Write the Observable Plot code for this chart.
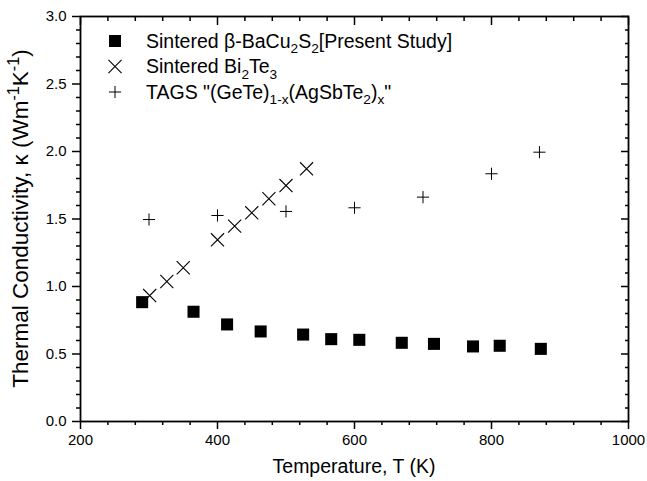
<!DOCTYPE html>
<html><head><meta charset="utf-8">
<script src="https://cdn.jsdelivr.net/npm/d3@7"></script>
<script src="https://cdn.jsdelivr.net/npm/@observablehq/plot@0.6"></script>
<style>body{margin:0;background:#fff} svg{display:block}</style>
</head><body><div id="chart"></div>
<script>
// Sintered beta-BaCu2S2 [Present Study]
const baT = [290, 365, 414, 463, 525, 566, 607, 669, 716, 773, 812, 872];
const baK = [0.884, 0.813, 0.719, 0.667, 0.644, 0.610, 0.605, 0.583, 0.575, 0.556, 0.561, 0.538];
// Sintered Bi2Te3
const biT = [301, 326, 350, 400, 425, 450, 475, 500, 530];
const biK = [0.933, 1.037, 1.139, 1.346, 1.447, 1.546, 1.650, 1.748, 1.872];
// TAGS
const tagsT = [300, 400, 500, 600, 700, 800, 870];
const tagsK = [1.496, 1.526, 1.556, 1.583, 1.662, 1.835, 1.995];

const xTicks = [200, 400, 600, 800, 1000];
const xMinor = [240, 280, 320, 360, 440, 480, 520, 560, 640, 680, 720, 760, 840, 880, 920, 960];
const yTicks = [0, 0.5, 1.0, 1.5, 2.0, 2.5, 3.0];
const yMinor = [0.1,0.2,0.3,0.4,0.6,0.7,0.8,0.9,1.1,1.2,1.3,1.4,1.6,1.7,1.8,1.9,2.1,2.2,2.3,2.4,2.6,2.7,2.8,2.9];

const xTitle = ["Temperature, T (K)"];
const yTitle = ["Thermal Conductivity, κ (Wm", ["-1","sup"], "K", ["-1","sup"], ")"];
const legendLabels = [
  ["Sintered β-BaCu", ["2","sub"], "S", ["2","sub"], "[Present Study]"],
  ["Sintered Bi", ["2","sub"], "Te", ["3","sub"]],
  ["TAGS \"(GeTe)", ["1-x","sub"], "(AgSbTe", ["2","sub"], ")", ["x","sub"], "\""]
];

const ba = baT.map((t, i) => ({T: t, k: baK[i]}));
const bi = biT.map((t, i) => ({T: t, k: biK[i]}));
const tags = tagsT.map((t, i) => ({T: t, k: tagsK[i]}));

const R_SQ = 6.8, R_X = 6.0, R_PLUS = 4.0;
const blank = () => "";

const chart = Plot.plot({
  width: 647, height: 481,
  marginLeft: 80, marginRight: 19, marginTop: 16, marginBottom: 60,
  x: {domain: [200, 1000]},
  y: {domain: [0, 3]},
  style: {fontFamily: "'Liberation Sans', Arial, sans-serif", fontSize: "15px", color: "black", background: "white"},
  marks: [
    Plot.axisX(xMinor, {anchor: "bottom", tickSize: 4, strokeWidth: 1.5, tickFormat: blank, label: null}),
    Plot.axisX(xTicks, {anchor: "bottom", tickSize: 8, strokeWidth: 1.5, tickPadding: 5, tickFormat: d => String(d), label: null}),
    Plot.axisX(xMinor, {anchor: "top", tickSize: -4, strokeWidth: 1.5, tickFormat: blank, label: null}),
    Plot.axisX(xTicks, {anchor: "top", tickSize: -8, strokeWidth: 1.5, tickFormat: blank, label: null}),
    Plot.axisY(yMinor, {anchor: "left", tickSize: 4, strokeWidth: 1.5, tickFormat: blank, label: null}),
    Plot.axisY(yTicks, {anchor: "left", tickSize: 8, strokeWidth: 1.5, tickPadding: 6, tickFormat: d => d.toFixed(1), label: null}),
    Plot.axisY(yMinor, {anchor: "right", tickSize: -4, strokeWidth: 1.5, tickFormat: blank, label: null}),
    Plot.axisY(yTicks, {anchor: "right", tickSize: -8, strokeWidth: 1.5, tickFormat: blank, label: null}),
    Plot.frame({stroke: "black", strokeWidth: 1.8}),
    Plot.dot(ba, {x: "T", y: "k", symbol: "square", r: R_SQ, fill: "black", stroke: "none"}),
    Plot.dot(bi, {x: "T", y: "k", symbol: "times", r: R_X, stroke: "black", strokeWidth: 1.1, fill: "none"}),
    Plot.dot(tags, {x: "T", y: "k", symbol: "plus", r: R_PLUS, stroke: "black", strokeWidth: 1.0, fill: "none"})
  ]
});
document.getElementById("chart").append(chart);

const svg = d3.select(chart);
function rich(sel, parts, fs, small) {
  let shift = 0;
  for (const p of parts) {
    const [s, kind] = typeof p === "string" ? [p, null] : p;
    const target = kind === "sub" ? fs * 0.3 : kind === "sup" ? -fs * 0.4 : 0;
    sel.append("tspan").attr("dy", target - shift).attr("font-size", kind ? fs * small : fs).text(s);
    shift = target;
  }
}
const FF = "'Liberation Sans', Arial, sans-serif";
// axis titles
const tx = svg.append("text").attr("x", (80 + 628) / 2).attr("y", 473).attr("text-anchor", "middle")
  .attr("font-family", FF).attr("font-size", 19.5).attr("fill", "black");
rich(tx, xTitle, 19.5, 0.7);
const ty = svg.append("text").attr("transform", `translate(28,${(16 + 421) / 2}) rotate(-90)`).attr("text-anchor", "middle")
  .attr("font-family", FF).attr("font-size", 22.5).attr("fill", "black");
rich(ty, yTitle, 22.5, 0.72);

// legend
const symbols = [
  {sym: d3.symbolSquare, r: R_SQ, fill: "black", stroke: "none", sw: 0},
  {sym: d3.symbolTimes, r: R_X, fill: "none", stroke: "black", sw: 1.1},
  {sym: d3.symbolPlus, r: R_PLUS, fill: "none", stroke: "black", sw: 1.0}
];
const rowsY = [41, 66.5, 92];
const lg = svg.append("g");
legendLabels.forEach((parts, i) => {
  const s = symbols[i];
  lg.append("path").attr("transform", `translate(115,${rowsY[i]})`)
    .attr("d", d3.symbol(s.sym, Math.PI * s.r * s.r)())
    .attr("fill", s.fill).attr("stroke", s.stroke).attr("stroke-width", s.sw);
  const t = lg.append("text").attr("x", 146).attr("y", rowsY[i] + 6.5).attr("text-anchor", "start")
    .attr("font-family", FF).attr("font-size", 19.5).attr("fill", "black");
  rich(t, parts, 19.5, 0.7);
});
</script>
</body></html>
